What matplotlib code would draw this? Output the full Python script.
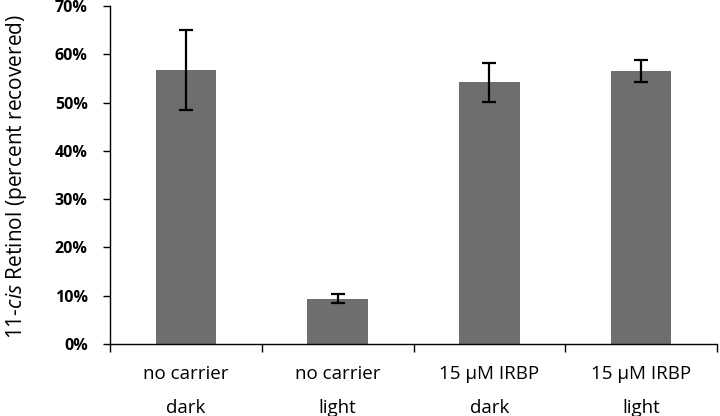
import matplotlib
matplotlib.use("Agg")
import matplotlib.pyplot as plt
import numpy as np
from matplotlib.ticker import FixedLocator, FuncFormatter

categories = ["no carrier\ndark", "no carrier\nlight", "15 \u03bcM IRBP\ndark", "15 \u03bcM IRBP\nlight"]
values = [56.7, 9.4, 54.2, 56.5]
errors = [8.3, 1.0, 4.0, 2.3]
yticks = [0, 10, 20, 30, 40, 50, 60, 70]

plt.rcParams['font.family'] = ['Open Sans', 'DejaVu Sans']
plt.rcParams['mathtext.fontset'] = 'custom'
plt.rcParams['mathtext.rm'] = 'Open Sans'
plt.rcParams['mathtext.it'] = 'Open Sans:italic'

fig = plt.figure(figsize=(7.2, 4.16), dpi=100)
ax = fig.add_axes([110/720, 1-344/416, 607/720, 338/416])

x = np.arange(len(categories))
ax.bar(x, values, width=0.4, color='#6e6e6e', zorder=2)
ax.errorbar(x, values, yerr=errors, fmt='none', ecolor='black', elinewidth=1.6,
            capsize=5, capthick=1.6, zorder=3)

ax.set_xlim(-0.5, len(categories)-0.5)
ax.set_ylim(0, 70)
ax.yaxis.set_major_locator(FixedLocator(yticks))
ax.yaxis.set_major_formatter(FuncFormatter(lambda v, p: f"{int(v)}%"))
for lab in ax.get_yticklabels():
    lab.set_fontweight('bold')
ax.tick_params(axis='y', labelsize=11.5, length=5, width=1, direction='out', pad=11, colors='black')

ax.set_xticks(x)
ax.set_xticklabels(categories, fontsize=13.5, linespacing=2.15, fontweight='medium')
ax.tick_params(axis='x', which='major', length=0, pad=15)
ax.set_xticks(np.arange(len(categories)+1)-0.5, minor=True)
ax.tick_params(axis='x', which='minor', length=6, width=1, direction='out')

for s in ['top', 'right']:
    ax.spines[s].set_visible(False)
ax.spines['left'].set_linewidth(1)
ax.spines['bottom'].set_linewidth(1)

fig.text(17/720, 1-176/416, r"11-$\it{cis}$ Retinol (percent recovered)", fontsize=15,
         rotation=90, ha='center', va='center')

fig.savefig("out.png", dpi=100)
